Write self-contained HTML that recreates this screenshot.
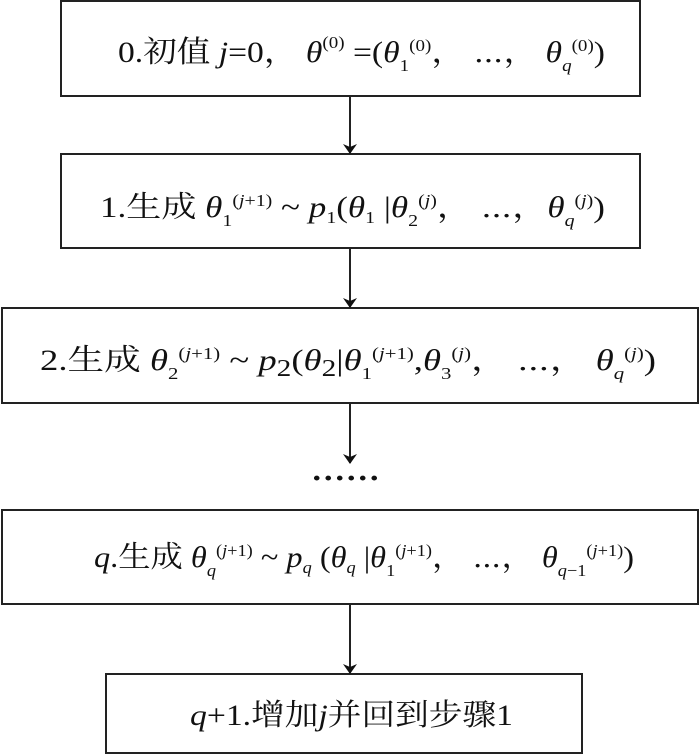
<!DOCTYPE html>
<html><head><meta charset="utf-8"><style>
html,body{margin:0;padding:0;background:#fff;}
svg{display:block;}
text{font-family:"Liberation Serif","Noto Serif CJK SC","Noto Sans CJK SC",serif;fill:#111;}
.i{font-style:italic;}
</style></head><body>
<svg width="700" height="754" viewBox="0 0 700 754" xmlns="http://www.w3.org/2000/svg">
<defs><marker id="a" markerWidth="10" markerHeight="14" refX="9" refY="7" orient="auto" markerUnits="userSpaceOnUse">
<path d="M0,0 L10,7 L0,14 L3,7 Z" fill="#111"/></marker></defs>
<g fill="none" stroke="#222" stroke-width="2">
<rect x="61" y="1" width="579" height="95"/>
<rect x="61" y="154" width="579" height="94"/>
<rect x="2" y="308" width="696" height="95"/>
<rect x="2" y="510" width="696" height="94"/>
<rect x="106" y="674" width="476" height="79"/>
<line x1="350" y1="96" x2="350" y2="153" marker-end="url(#a)"/>
<line x1="350" y1="248" x2="350" y2="307" marker-end="url(#a)"/>
<line x1="350" y1="403" x2="350" y2="463" marker-end="url(#a)"/>
<line x1="350" y1="604" x2="350" y2="673" marker-end="url(#a)"/>
</g>
<text x="311" y="488" font-size="30" textLength="69" lengthAdjust="spacingAndGlyphs" font-weight="bold">······</text>

<text x="118" y="62" font-size="30" textLength="487" lengthAdjust="spacingAndGlyphs">0.初值 <tspan class="i">j</tspan>=0， <tspan class="i">θ</tspan><tspan font-size="17" dy="-14">(0)</tspan><tspan dy="14"> =(</tspan><tspan class="i">θ</tspan><tspan font-size="17" dy="9">1</tspan><tspan font-size="17" dy="-20">(0)</tspan><tspan dy="11">， ⋯， </tspan><tspan class="i">θ</tspan><tspan font-size="17" class="i" dy="9">q</tspan><tspan font-size="17" dy="-20">(0)</tspan><tspan dy="11">)</tspan></text>

<text x="100" y="217" font-size="30" textLength="505" lengthAdjust="spacingAndGlyphs">1.生成 <tspan class="i">θ</tspan><tspan font-size="17" dy="9">1</tspan><tspan font-size="17" dy="-20">(<tspan class="i">j</tspan>+1)</tspan><tspan dy="11"> ~ </tspan><tspan class="i">p</tspan><tspan font-size="17" dy="6">1</tspan><tspan dy="-6">(</tspan><tspan class="i">θ</tspan><tspan font-size="17" dy="6">1</tspan><tspan dy="-6"> |</tspan><tspan class="i">θ</tspan><tspan font-size="17" dy="9">2</tspan><tspan font-size="17" dy="-20">(<tspan class="i">j</tspan>)</tspan><tspan dy="11">， ⋯，</tspan><tspan class="i">θ</tspan><tspan font-size="17" class="i" dy="9">q</tspan><tspan font-size="17" dy="-20">(<tspan class="i">j</tspan>)</tspan><tspan dy="11">)</tspan></text>

<text x="40" y="370" font-size="30" textLength="616" lengthAdjust="spacingAndGlyphs">2.生成  <tspan class="i">θ</tspan><tspan font-size="17" dy="9">2</tspan><tspan font-size="17" dy="-20">(<tspan class="i">j</tspan>+1)</tspan><tspan dy="11"> ~ </tspan><tspan class="i">p</tspan><tspan font-size="24" dy="6">2</tspan><tspan dy="-6">(</tspan><tspan class="i">θ</tspan><tspan font-size="24" dy="6">2</tspan><tspan dy="-6">|</tspan><tspan class="i">θ</tspan><tspan font-size="17" dy="9">1</tspan><tspan font-size="17" dy="-20">(<tspan class="i">j</tspan>+1)</tspan><tspan dy="11">,</tspan><tspan class="i">θ</tspan><tspan font-size="17" dy="9">3</tspan><tspan font-size="17" dy="-20">(<tspan class="i">j</tspan>)</tspan><tspan dy="11">， ⋯， </tspan><tspan class="i">θ</tspan><tspan font-size="17" class="i" dy="9">q</tspan><tspan font-size="17" dy="-20">(<tspan class="i">j</tspan>)</tspan><tspan dy="11">)</tspan></text>

<text x="94" y="567" font-size="30" textLength="540" lengthAdjust="spacingAndGlyphs"><tspan class="i">q</tspan>.生成 <tspan class="i">θ</tspan><tspan font-size="17" class="i" dy="9">q</tspan><tspan font-size="17" dy="-20">(<tspan class="i">j</tspan>+1)</tspan><tspan dy="11"> ~ </tspan><tspan class="i">p</tspan><tspan font-size="17" class="i" dy="6">q</tspan><tspan dy="-6"> (</tspan><tspan class="i">θ</tspan><tspan font-size="17" class="i" dy="6">q</tspan><tspan dy="-6"> |</tspan><tspan class="i">θ</tspan><tspan font-size="17" dy="9">1</tspan><tspan font-size="17" dy="-20">(<tspan class="i">j</tspan>+1)</tspan><tspan dy="11">， ⋯，  </tspan><tspan class="i">θ</tspan><tspan font-size="17" class="i" dy="9">q</tspan><tspan font-size="17" dy="0">−1</tspan><tspan font-size="17" dy="-20">(<tspan class="i">j</tspan>+1)</tspan><tspan dy="11">)</tspan></text>

<text x="190" y="725" font-size="30" textLength="323" lengthAdjust="spacingAndGlyphs"><tspan class="i">q</tspan>+1.增加<tspan class="i">j</tspan>并回到步骤1</text>
</svg>
</body></html>
